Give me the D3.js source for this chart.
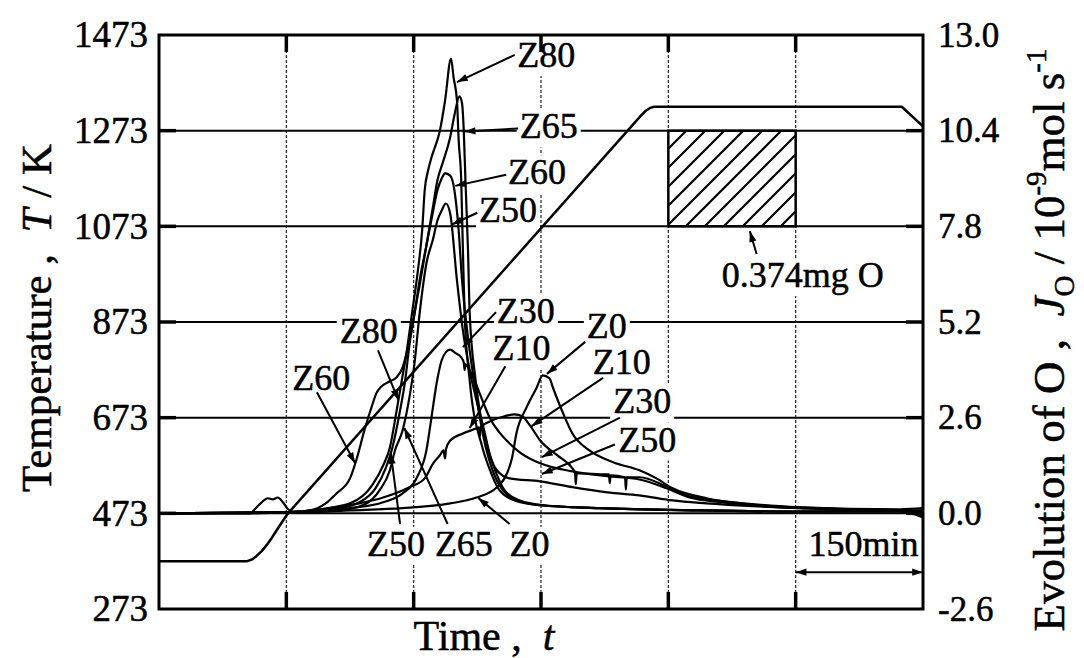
<!DOCTYPE html>
<html>
<head>
<meta charset="utf-8">
<script src="https://cdn.jsdelivr.net/npm/d3@7"></script>
<style>
body{margin:0;background:#fff;}
svg text{font-family:"Liberation Serif","Times New Roman",serif;fill:#000;stroke:#000;stroke-width:0.5px;}
</style>
</head>
<body>
<svg id="chart" width="1084" height="658"></svg>
<script>
// tick labels of both y axes, and the time grid (min)
const tempTicks = [273, 473, 673, 873, 1073, 1273, 1473];
const joTicks = [-2.6, 0.0, 2.6, 5.2, 7.8, 10.4, 13.0];
const timeGrid = [150, 300, 450, 600, 750];

// temperature programme [t(min), T(K)]
const temperature = [[0,373],[104,373],[110,377],[115,384],[121,394],[127,407],[133,422],[138,436],[145,455],[152,473],
  [568,1305],[573,1314],[578,1320],[583,1323],[875,1323],[900,1282]];

// oxygen evolution [t(min), J_O (1e-9 mol/s)]
const z0 = [[0,0],[166,0.03],[225,0.08],[287,0.14],[343,0.27],[374,0.43],[398,0.71],[410,1.09],[416,1.52],[421,2.17],
  [433,2.88],[445,3.42],[452,3.75],[460,3.67],[464,3.42],[476,2.72],[487,2.17],[507,1.71],[535,1.39],[566,1.17],
  [586,0.95],[605,0.68],[645,0.41],[684,0.27],[755,0.16],[873,0.11],[900,0.14]];
const z10 = [[0,0],[154,0.03],[201,0.14],[236,0.27],[264,0.43],[295,0.71],[313,0.95],[323,1.36],[331,1.58],
  [335,1.71],[337,1.49],[338,1.74],[343,1.98],[358,2.17],[374,2.31],[377,2.34],[378,2.09],[379,2.34],[393,2.53],
  [407,2.64],[419,2.69],[428,2.64],[437,2.39],[449,1.98],[469,1.58],[487,1.22],[490,1.11],[491,0.79],[492,1.09],
  [528,1.06],[530,1.06],[531,0.82],[532,1.03],[549,0.98],[550,0.65],[551,0.98],[566,0.98],[598,0.73],[625,0.46],
  [664,0.33],[755,0.16],[873,0.08],[900,0.08]];
const z30 = [[0,0],[166,0.03],[225,0.14],[264,0.30],[287,0.54],[304,0.98],[315,1.71],[321,2.61],[327,3.53],[333,4.16],
  [338,4.38],[343,4.45],[349,4.36],[356,4.24],[359,4.10],[360,3.89],[361,4.05],[366,3.89],[374,3.48],[381,3.07],[390,2.58],
  [401,2.20],[413,1.90],[425,1.66],[449,1.36],[487,1.14],[528,1.01],[566,0.92],[598,0.68],[625,0.43],[664,0.30],
  [755,0.14],[873,0.08],[900,0.05]];
const z50 = [[0,0],[166,0.03],[213,0.08],[242,0.24],[260,0.63],[272,1.17],[278,1.71],[287,2.26],[295,3.15],[301,4.08],
  [307,5.43],[315,6.79],[323,7.47],[328,7.96],[333,8.23],[338,8.42],[343,8.15],[351,6.33],[358,4.97],[366,3.89],
  [374,3.07],[383,2.26],[390,1.58],[398,1.17],[413,0.95],[449,0.87],[487,0.71],[528,0.57],[566,0.49],[605,0.35],
  [645,0.27],[755,0.14],[873,0.08],[900,0.03]];
const z60 = [[0,0],[107,0],[154,0.03],[178,0.08],[198,0.30],[209,0.54],[225,0.95],[233,1.49],[242,2.26],[251,2.93],
  [256,3.26],[262,3.45],[272,3.59],[280,3.70],[287,3.97],[295,4.70],[301,5.43],[307,6.33],[315,7.28],[323,8.23],
  [328,8.78],[333,9.10],[337,9.24],[343,9.18],[348,8.78],[353,7.69],[357,6.33],[363,4.97],[371,3.61],[385,1.79],
  [393,1.17],[405,0.63],[423,0.35],[449,0.22],[519,0.14],[637,0.08],[755,0.05],[873,0.08],[900,-0.03]];
const z65 = [[0,0],[166,0.03],[207,0.11],[236,0.30],[255,0.68],[267,1.22],[275,1.79],[284,2.80],[290,3.61],[295,4.57],
  [301,5.43],[307,6.20],[315,7.28],[323,8.37],[328,9.05],[334,9.51],[343,10.22],[348,10.82],[354,11.33],[357,11.14],
  [359,10.41],[361,9.05],[364,7.15],[366,5.43],[373,3.61],[387,1.79],[396,1.17],[407,0.63],[425,0.35],[454,0.22],
  [519,0.14],[637,0.08],[755,0.05],[873,0.05],[900,-0.05]];
const z80 = [[0,0],[107,0],[114,0.14],[121,0.30],[128,0.41],[134,0.38],[140,0.43],[146,0.30],[152,0.11],[158,0.05],
  [189,0.11],[225,0.27],[251,0.76],
  [264,1.30],[272,1.79],[280,2.80],[286,3.61],[292,4.43],[298,5.43],[305,6.60],[310,7.69],[313,8.78],[317,9.32],
  [321,9.67],[331,10.41],[337,11.22],[344,12.36],[347,11.85],[351,11.22],[353,10.14],[356,9.05],[358,7.15],[360,5.43],
  [366,3.61],[381,1.79],[390,1.17],[401,0.63],[419,0.35],[449,0.22],[519,0.14],[637,0.08],[755,0.05],[873,0.05],[900,-0.11]];

// curve labels: text position, arrow start, arrow tip  [t, J]
const zLabels = [
  {name:'Z80', at:[422,12.13], from:[419,12.46], to:[351,11.72]},
  {name:'Z65', at:[425,10.19], from:[423,10.46], to:[360,10.38]},
  {name:'Z60', at:[411,8.94], from:[409,9.2], to:[349,8.9]},
  {name:'Z50', at:[377,7.93], from:[375,8.17], to:[345,7.85]},
  {name:'Z80', at:[213,4.63], from:[258,4.43], to:[282,3.08]},
  {name:'Z60', at:[157,3.35], from:[186,3.29], to:[231,1.36]},
  {name:'Z50', at:[245,-1.16], from:[284,-0.29], to:[273,1.64]},
  {name:'Z65', at:[325,-1.16], from:[340,-0.29], to:[289,2.32]},
  {name:'Z0', at:[413,-1.16], from:[413,-0.29], to:[376,0.42]},
  {name:'Z30', at:[398,5.17], from:[397,5.47], to:[358,4.52]},
  {name:'Z10', at:[393,4.17], from:[408,4.00], to:[366,2.32]},
  {name:'Z0', at:[504,4.77], from:[502,4.66], to:[457,3.79]},
  {name:'Z10', at:[511,3.78], from:[523,3.68], to:[439,2.37]},
  {name:'Z30', at:[535,2.72], from:[543,2.60], to:[451,1.53]},
  {name:'Z50', at:[541,1.68], from:[537,1.87], to:[451,1.07]}
];
// calibration block: 0.374 mg O
const calibT = [600, 750];
const calibJ = [7.8, 10.4];

const width = 1084, height = 658;
const padding = {top: 35, right: 161, bottom: 49, left: 159};
const svg = d3.select('#chart');

const xScale = d3.scaleLinear().domain([0, 900]).range([padding.left, width - padding.right]);
const yT = d3.scaleLinear().domain([273, 1473]).range([height - padding.bottom, padding.top]);
const yJ = d3.scaleLinear().domain([-2.6, 13]).range([height - padding.bottom, padding.top]);
const x0 = xScale(0), x1 = xScale(900), yTop = yT(1473), yBot = yT(273);

const defs = svg.append('defs');
defs.append('marker').attr('id', 'arrow')
    .attr('viewBox', '0 0 12 10').attr('refX', 12).attr('refY', 5)
    .attr('markerWidth', 13).attr('markerHeight', 9)
    .attr('markerUnits', 'userSpaceOnUse').attr('orient', 'auto-start-reverse')
    .append('path').attr('d', 'M0,1 L12,5 L0,9 Z').attr('fill', '#000');
defs.append('pattern').attr('id', 'hatch').attr('patternUnits', 'userSpaceOnUse')
    .attr('width', 19).attr('height', 19)
    .append('path').attr('d', 'M-5,5 L5,-5 M0,19 L19,0 M14,24 L24,14')
    .attr('stroke', '#000').attr('stroke-width', 2.2);

//grid
const grid = svg.append('g');
grid.selectAll('.vg').data(timeGrid).enter().append('line')
    .attr('x1', d => xScale(d)).attr('x2', d => xScale(d))
    .attr('y1', yTop).attr('y2', yBot)
    .attr('stroke', '#222').attr('stroke-width', 1.2).attr('stroke-dasharray', '3,2');
grid.selectAll('.hg').data(tempTicks.slice(1, -1)).enter().append('line')
    .attr('x1', x0).attr('x2', x1)
    .attr('y1', d => yT(d)).attr('y2', d => yT(d))
    .attr('stroke', '#000').attr('stroke-width', 2);

const bgLayer = svg.append('g');
const markLayer = svg.append('g');
const textLayer = svg.append('g');

//calibration block
markLayer.append('rect')
    .attr('x', xScale(calibT[0])).attr('y', yJ(calibJ[1]))
    .attr('width', xScale(calibT[1]) - xScale(calibT[0]))
    .attr('height', yJ(calibJ[0]) - yJ(calibJ[1]))
    .attr('fill', 'url(#hatch)').attr('stroke', '#000').attr('stroke-width', 2.5);

//curves
const lineJ = d3.line().x(d => xScale(d[0])).y(d => yJ(d[1])).curve(d3.curveMonotoneX);
const lineT = d3.line().x(d => xScale(d[0])).y(d => yT(d[1]));
[z0, z10, z30, z50, z60, z65, z80].forEach(s => {
    markLayer.append('path').attr('d', lineJ(s))
        .attr('fill', 'none').attr('stroke', '#000').attr('stroke-width', 2.2).attr('stroke-linejoin', 'round');
});
markLayer.append('path').attr('d', lineT(temperature))
    .attr('fill', 'none').attr('stroke', '#000').attr('stroke-width', 2.5).attr('stroke-linejoin', 'round');

//frame and inner ticks
markLayer.append('rect').attr('x', x0).attr('y', yTop).attr('width', x1 - x0).attr('height', yBot - yTop)
    .attr('fill', 'none').attr('stroke', '#000').attr('stroke-width', 3);
timeGrid.forEach(d => {
    markLayer.append('line').attr('x1', xScale(d)).attr('x2', xScale(d)).attr('y1', yTop).attr('y2', yTop + 17)
        .attr('stroke', '#000').attr('stroke-width', 3.5);
    markLayer.append('line').attr('x1', xScale(d)).attr('x2', xScale(d)).attr('y1', yBot).attr('y2', yBot - 17)
        .attr('stroke', '#000').attr('stroke-width', 3.5);
});
tempTicks.slice(1, -1).forEach(d => {
    markLayer.append('line').attr('x1', x0).attr('x2', x0 + 17).attr('y1', yT(d)).attr('y2', yT(d))
        .attr('stroke', '#000').attr('stroke-width', 3.5);
    markLayer.append('line').attr('x1', x1).attr('x2', x1 - 17).attr('y1', yT(d)).attr('y2', yT(d))
        .attr('stroke', '#000').attr('stroke-width', 3.5);
});

//labels with white boxes over the grid
function label(txt, p) {
    const t = textLayer.append('text').attr('x', xScale(p[0])).attr('y', yJ(p[1]))
        .attr('font-size', 36).text(txt);
    const b = t.node().getBBox();
    bgLayer.append('rect').attr('x', b.x - 3).attr('y', b.y + 3)
        .attr('width', b.width + 6).attr('height', b.height - 2)
        .attr('fill', '#fff');
    return t;
}
function arrow(a, b, both) {
    const l = textLayer.append('line')
        .attr('x1', xScale(a[0])).attr('y1', yJ(a[1]))
        .attr('x2', xScale(b[0])).attr('y2', yJ(b[1]))
        .attr('stroke', '#000').attr('stroke-width', 2)
        .attr('marker-end', 'url(#arrow)');
    if (both) l.attr('marker-start', 'url(#arrow)');
}
zLabels.forEach(d => {
    label(d.name, d.at);
    arrow(d.from, d.to);
});
label('0.374mg O', [663, 6.15]);
arrow([704, 7.05], [696, 7.67]);
label('150min', [765, -1.15]);
arrow([750, -1.6], [900, -1.6], true);

//axes
const axL = svg.append('g').attr('transform', `translate(${x0},0)`)
    .call(d3.axisLeft(yT).tickValues(tempTicks).tickSize(0).tickPadding(11).tickFormat(d3.format('d')));
axL.select('.domain').remove();
axL.attr('font-family', null).attr('font-size', 37);

const axR = svg.append('g').attr('transform', `translate(${x1},0)`)
    .call(d3.axisRight(yJ).tickValues(joTicks).tickSize(0).tickPadding(15).tickFormat(d => d.toFixed(1)));
axR.select('.domain').remove();
axR.attr('font-family', null).attr('font-size', 35);

//axis titles
const tl = svg.append('text')
    .attr('transform', `translate(51, 318) rotate(-90)`)
    .attr('text-anchor', 'middle').attr('font-size', 43);
tl.append('tspan').text('Temperature ,\u00a0\u00a0');
tl.append('tspan').attr('font-style', 'italic').text('T');
tl.append('tspan').text('\u00a0/ K');

const tr = svg.append('text')
    .attr('transform', `translate(1064, 340) rotate(-90)`)
    .attr('text-anchor', 'middle').attr('font-size', 45);
tr.append('tspan').text('Evolution of O ,\u00a0\u00a0');
tr.append('tspan').attr('font-style', 'italic').text('J');
tr.append('tspan').attr('font-size', 29).attr('dy', 10).text('O');
tr.append('tspan').attr('dy', -10).text('\u00a0/ 10');
tr.append('tspan').attr('font-size', 29).attr('dy', -18).text('-9');
tr.append('tspan').attr('dy', 18).text('mol s');
tr.append('tspan').attr('font-size', 29).attr('dy', -18).text('-1');

const tb = svg.append('text')
    .attr('x', 484).attr('y', 650)
    .attr('text-anchor', 'middle').attr('font-size', 42);
tb.append('tspan').text('Time ,\u00a0\u00a0');
tb.append('tspan').attr('font-style', 'italic').text('t');
</script>
</body>
</html>
